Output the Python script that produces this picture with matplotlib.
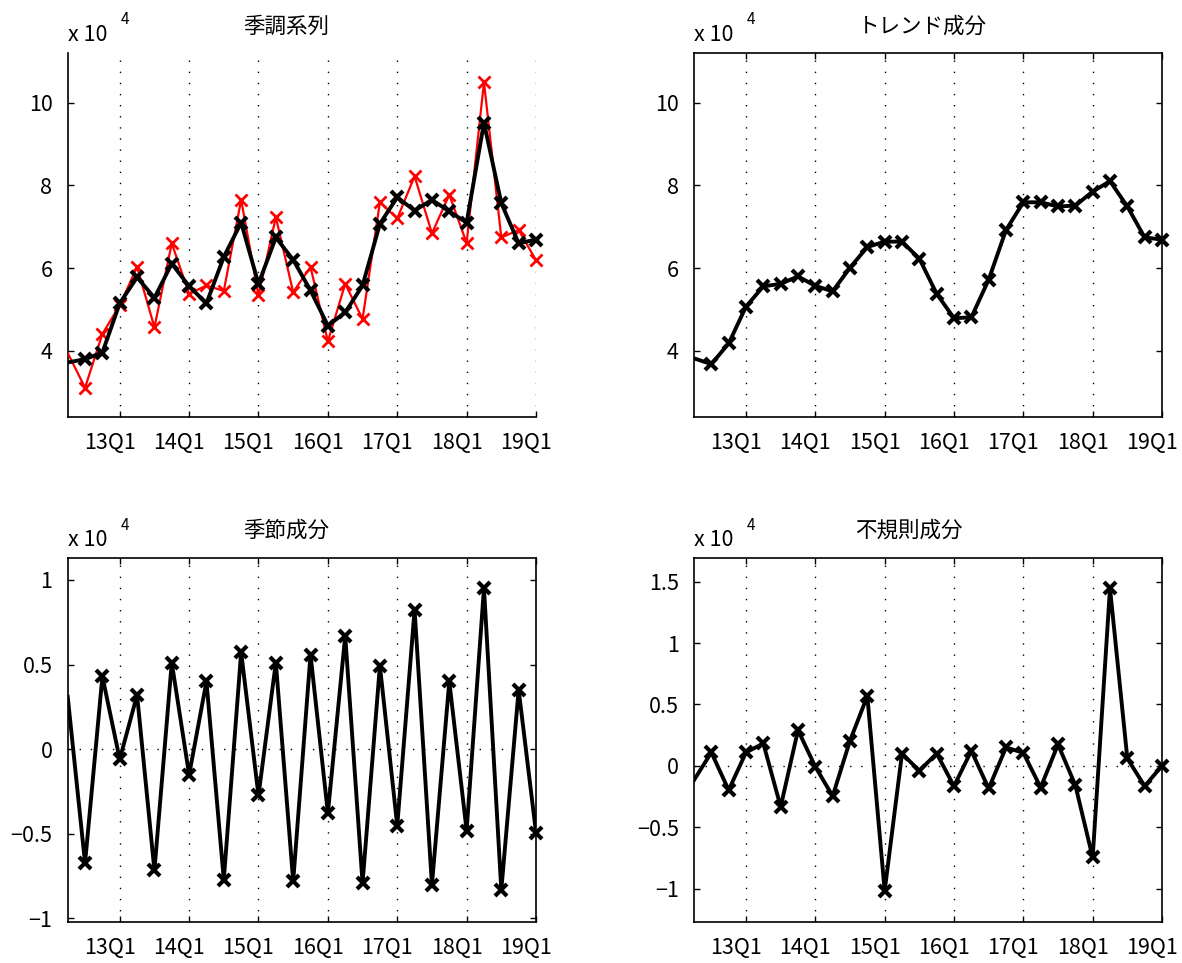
import numpy as np
import matplotlib
matplotlib.use("Agg")
import matplotlib.pyplot as plt
import matplotlib.transforms as mtransforms

plt.rcParams['font.family'] = ['Noto Sans CJK JP', 'DejaVu Sans']

# quarters 12Q2 .. 19Q1 (values in units of 10^4)
quarters = ['12Q2', '12Q3', '12Q4',
            '13Q1', '13Q2', '13Q3', '13Q4',
            '14Q1', '14Q2', '14Q3', '14Q4',
            '15Q1', '15Q2', '15Q3', '15Q4',
            '16Q1', '16Q2', '16Q3', '16Q4',
            '17Q1', '17Q2', '17Q3', '17Q4',
            '18Q1', '18Q2', '18Q3', '18Q4',
            '19Q1']

original = [3.95, 3.11, 4.41, 5.10, 6.03, 4.57, 6.60, 5.38, 5.58, 5.45, 7.65,
            5.34, 7.23, 5.42, 6.03, 4.23, 5.62, 4.77, 7.59, 7.20, 8.22, 6.84,
            7.77, 6.61, 10.49, 6.74, 6.92, 6.19]
adjusted = [3.72, 3.80, 3.96, 5.15, 5.78, 5.28, 6.11, 5.56, 5.15, 6.27, 7.10,
            5.62, 6.74, 6.20, 5.46, 4.61, 4.93, 5.58, 7.07, 7.71, 7.39, 7.65,
            7.37, 7.10, 9.51, 7.57, 6.60, 6.69]
trend = [3.82, 3.68, 4.18, 5.07, 5.56, 5.62, 5.80, 5.57, 5.44, 6.01, 6.51,
         6.64, 6.64, 6.23, 5.38, 4.79, 4.81, 5.72, 6.92, 7.59, 7.59, 7.49,
         7.51, 7.85, 8.10, 7.49, 6.74, 6.69]
seasonal = [0.31, -0.674, 0.43, -0.06, 0.32, -0.717, 0.512, -0.152, 0.40,
            -0.772, 0.573, -0.274, 0.512, -0.782, 0.558, -0.378, 0.67, -0.792,
            0.493, -0.453, 0.824, -0.802, 0.40, -0.481, 0.952, -0.832, 0.351,
            -0.493]
irregular = [-0.117, 0.109, -0.198, 0.109, 0.182, -0.334, 0.29, -0.008,
             -0.247, 0.204, 0.568, -1.019, 0.10, -0.041, 0.10, -0.166, 0.122,
             -0.185, 0.149, 0.106, -0.177, 0.174, -0.158, -0.747, 1.446, 0.06,
             -0.166, 0.0]

tick_labels = ['13Q1', '14Q1', '15Q1', '16Q1', '17Q1', '18Q1', '19Q1']

x = np.arange(len(quarters))
xticks = [quarters.index(t) for t in tick_labels]

W, H = 1182, 963
fig = plt.figure(figsize=(W / 100, H / 100), dpi=100)


def px_axes(l, t, r, b):
    return fig.add_axes([l / W, 1 - b / H, (r - l) / W, (b - t) / H])


def style(ax, ylim, yticks, ylabels, box=True, zero=False):
    ax.set_xlim(0, len(quarters) - 1)
    ax.set_ylim(*ylim)
    ax.set_xticks(xticks)
    ax.set_xticklabels(tick_labels, fontsize=15.5)
    ax.set_yticks(yticks)
    ax.set_yticklabels(ylabels, fontsize=15.5)
    for xt in xticks:
        ax.axvline(xt, color='black', lw=1.0, ls=(0, (1, 7)), zorder=1)
    if zero:
        ax.axhline(0, color='black', lw=1.0, ls=(0, (1, 7)), zorder=1)
    ax.tick_params(direction='in', length=4, width=1, pad=11,
                   top=box, right=box)
    for s in ax.spines.values():
        s.set_linewidth(1.2)
    if not box:
        ax.spines['top'].set_visible(False)
        ax.spines['right'].set_visible(False)
    off = mtransforms.ScaledTranslation(-0.10, 0, fig.dpi_scale_trans)
    for lab in ax.get_xticklabels():
        lab.set_transform(lab.get_transform() + off)


def head(title, tx, ty, ex, ey):
    fig.text(tx / W, 1 - ty / H, title, ha='center', va='center', fontsize=15.5)
    fig.text(ex / W, 1 - ey / H, 'x 10', ha='left', va='center', fontsize=15.5)
    fig.text((ex + 53) / W, 1 - (ey - 15) / H, '4', ha='left', va='center',
             fontsize=11)


def series(ax, y, color, lw, mew, z):
    # the first quarter sits on the left edge and carries no marker
    ax.plot(x, y, color=color, lw=lw, zorder=z)
    ax.plot(x[1:], y[1:], ls='none', marker='x', markersize=9, mew=mew,
            color=color, zorder=z, clip_on=False)


# 季調系列
ax1 = px_axes(67.7, 53.3, 536, 416.7)
series(ax1, original, 'red', 1.6, 2.0, 3)
series(ax1, adjusted, 'black', 2.8, 3.0, 4)
style(ax1, (2.41, 11.19), [4, 6, 8, 10], ['4', '6', '8', '10'], box=False)
head('季調系列', 286, 27, 68, 35)

# トレンド成分
ax2 = px_axes(694, 53.3, 1162, 416.7)
series(ax2, trend, 'black', 2.8, 3.0, 4)
style(ax2, (2.41, 11.19), [4, 6, 8, 10], ['4', '6', '8', '10'])
head('トレンド成分', 922, 27, 694, 35)

# 季節成分
ax3 = px_axes(67.7, 558.3, 536, 921.7)
series(ax3, seasonal, 'black', 2.8, 3.0, 4)
style(ax3, (-1.02, 1.128), [-1, -0.5, 0, 0.5, 1],
      ['−1', '−0.5', '0', '0.5', '1'], zero=True)
head('季節成分', 286, 531, 68, 540)

# 不規則成分
ax4 = px_axes(694, 558.3, 1162, 921.7)
series(ax4, irregular, 'black', 2.8, 3.0, 4)
style(ax4, (-1.27, 1.69), [-1, -0.5, 0, 0.5, 1, 1.5],
      ['−1', '−0.5', '0', '0.5', '1', '1.5'], zero=True)
head('不規則成分', 909, 531, 694, 540)

fig.savefig('out.png', dpi=100)
